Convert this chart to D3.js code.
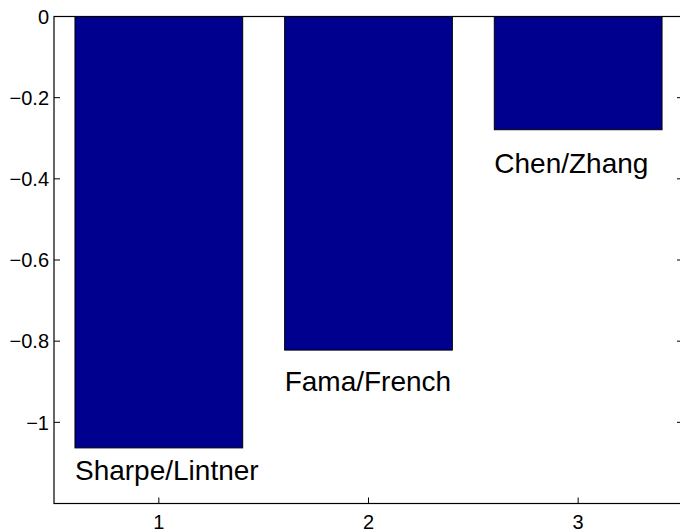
<!DOCTYPE html>
<html>
<head>
<meta charset="utf-8">
<script src="https://cdn.jsdelivr.net/npm/d3@7"></script>
<style>
    html, body { margin: 0; padding: 0; background: #fff; }
    svg { display: block; font-family: "Liberation Sans", Arial, sans-serif; }
</style>
</head>
<body>
<div id="chart"></div>
<script>
// bar values (one per model)
const categories = [1, 2, 3];
const values = [-1.063, -0.822, -0.279];

// text labels placed under each bar
const labelNames = ["Sharpe/Lintner", "Fama/French", "Chen/Zhang"];
const labelY = [-1.118, -0.898, -0.362];

const yTicks = [0, -0.2, -0.4, -0.6, -0.8, -1];
const xTicks = [1, 2, 3];

class BarChart{
    constructor(parent){
        this.parent = d3.select(parent);

        this.wSvg = 680;
        this.hSvg = 530;

        this.init();
    }

    init(){
        this.svg = this.parent.append("svg")
            .attr("width", this.wSvg)
            .attr("height", this.hSvg)
            .attr("viewBox", `0 0 ${this.wSvg} ${this.hSvg}`)
            .style("overflow", "hidden");

        this.prepScales();
        this.render();
    }

    prepScales(){
        // axes box runs a bit past the right edge of the window
        this.x = d3.scaleLinear().domain([0.5, 3.5]).range([54, 683]);
        this.y = d3.scaleLinear().domain([-1.2, 0]).range([503.5, 16.5]);
    }

    render(){
        const x = this.x, y = this.y;
        const [x0, x1] = x.range();
        const [yb, yt] = y.range();
        const tick = 6;
        const minus = d => d3.format("")(d).replace("-", "\u2212");

        // inward ticks on all four sides
        const g = this.svg.append("g").attr("stroke", "#000").attr("stroke-width", 1);
        yTicks.forEach(t => {
            g.append("line").attr("x1", x0).attr("x2", x0 + tick).attr("y1", y(t)).attr("y2", y(t));
            g.append("line").attr("x1", x1).attr("x2", x1 - tick).attr("y1", y(t)).attr("y2", y(t));
        });
        xTicks.forEach(t => {
            g.append("line").attr("x1", x(t)).attr("x2", x(t)).attr("y1", yb).attr("y2", yb - tick);
            g.append("line").attr("x1", x(t)).attr("x2", x(t)).attr("y1", yt).attr("y2", yt + tick);
        });

        // bars
        const bw = 0.8;
        this.svg.append("g").selectAll("rect")
            .data(categories)
            .enter()
            .append("rect")
                .attr("x", (d) => x(d - bw / 2))
                .attr("width", x(bw) - x(0))
                .attr("y", y(0))
                .attr("height", (d, i) => y(values[i]) - y(0))
                .style("fill", "#00008f")
                .style("stroke", "#000")
                .style("stroke-width", 1);

        // axes box
        this.svg.append("rect")
            .attr("x", x0).attr("y", yt)
            .attr("width", x1 - x0).attr("height", yb - yt)
            .style("fill", "none")
            .style("stroke", "#000")
            .style("stroke-width", 1.2);

        // tick labels
        this.svg.append("g").selectAll("text")
            .data(yTicks)
            .enter()
            .append("text")
                .attr("x", x0 - 5)
                .attr("y", d => y(d))
                .attr("dy", "0.36em")
                .attr("text-anchor", "end")
                .style("font-size", "20px")
                .text(minus);

        this.svg.append("g").selectAll("text")
            .data(xTicks)
            .enter()
            .append("text")
                .attr("x", d => x(d))
                .attr("y", yb + 11)
                .attr("dy", "0.72em")
                .attr("text-anchor", "middle")
                .style("font-size", "20px")
                .text(d => d);

        // model names
        this.svg.append("g").selectAll("text")
            .data(labelNames)
            .enter()
            .append("text")
                .attr("x", (d, i) => x(categories[i] - bw / 2))
                .attr("y", (d, i) => y(labelY[i]))
                .attr("dy", "0.36em")
                .style("font-size", "28px")
                .text(d => d);
    }
}

const chart = new BarChart(document.getElementById("chart"));
</script>
</body>
</html>
